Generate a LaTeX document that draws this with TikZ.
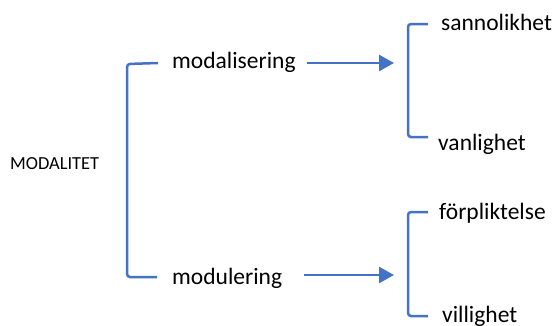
\documentclass[tikz,border=0pt]{standalone}
\usepackage{fontspec}
\setmainfont{Carlito}
\usetikzlibrary{arrows.meta}
\definecolor{officeblue}{RGB}{68,114,196}
\tikzset{
  lbl/.style={anchor=base west, inner sep=0pt, font=\fontsize{23.5}{26}\selectfont},
  small/.style={anchor=base west, inner sep=0pt, font=\fontsize{18.4}{20}\selectfont},
  br/.style={draw=officeblue, line width=2.5pt, rounded corners=3pt},
  arr/.style={draw=officeblue, line width=2.5pt, -{Triangle[length=15pt,width=16pt]}}
}
\begin{document}
\begin{tikzpicture}[x=1pt,y=-1pt]
\useasboundingbox (0,0) rectangle (555,325);
% labels
\node[small] (modalitet) at (10,169.3) {MODALITET};
\node[lbl] (modalisering) at (172,68.3) {modalisering};
\node[lbl] (modulering) at (172,284) {modulering};
\node[lbl] (sannolikhet) at (441,30.7) {sannolikhet};
\node[lbl] (vanlighet) at (438,150) {vanlighet};
\node[lbl] (forpliktelse) at (439,219.3) {förpliktelse};
\node[lbl] (villighet) at (442,322.5) {villighet};
% bracket endpoints
\coordinate (l1) at (158,63);
\coordinate (l2) at (157,277);
\coordinate (r1a) at (428,24);
\coordinate (r1b) at (428,137);
\coordinate (r2a) at (428,212);
\coordinate (r2b) at (428,316);
\coordinate (a1) at (394,63);
\coordinate (a2) at (394,275);
% left bracket
\draw[br] (l1) -- (127,64) -- (127,277) -- (l2);
% right brackets
\draw[br] (r1a) -- (408,24) -- (408,137) -- (r1b);
\draw[br] (r2a) -- (408,212) -- (408,316) -- (r2b);
% arrows
\draw[arr] ([xshift=11pt]modalisering.east |- a1) -- (a1);
\draw[arr] ([xshift=22pt]modulering.east |- a2) -- (a2);
\end{tikzpicture}
\end{document}
